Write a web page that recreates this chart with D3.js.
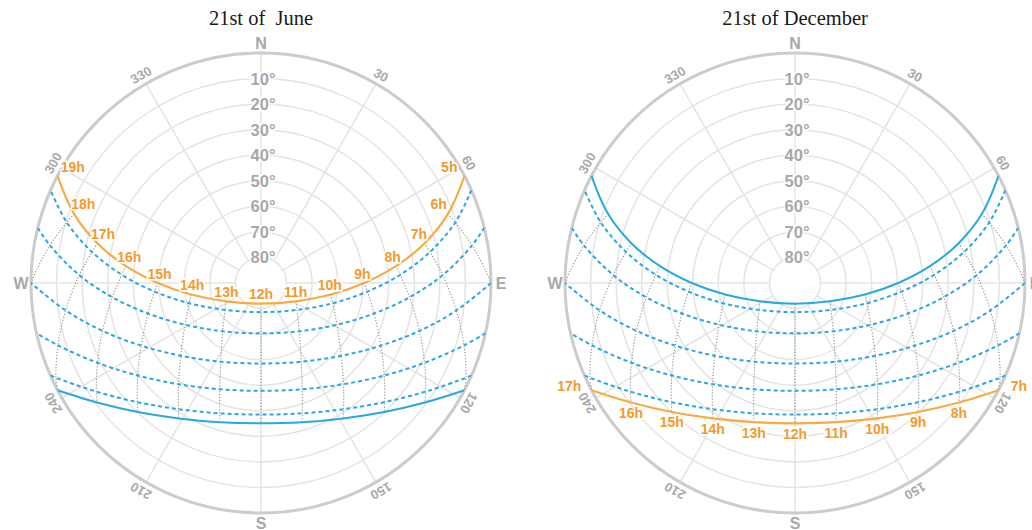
<!DOCTYPE html>
<html><head><meta charset="utf-8">
<script src="https://cdn.jsdelivr.net/npm/d3@7"></script>
<style>body{margin:0;background:#fff} svg{display:block}</style>
</head><body>
<svg id="chart" width="1032" height="530"></svg>
<script>
// ---------- DATA ----------
const chartTitles = ["21st of  June", "21st of December"];
const hours = [5, 6, 7, 8, 9, 10, 11, 12, 13, 14, 15, 16, 17, 18, 19];
const hourLabels = ["5h","6h","7h","8h","9h","10h","11h","12h","13h","14h","15h","16h","17h","18h","19h"];
const altitudeTicks = [10, 20, 30, 40, 50, 60, 70, 80];
const altitudeLabels = ["10°","20°","30°","40°","50°","60°","70°","80°"];
const azimuthTicks = [0, 30, 60, 90, 120, 150, 180, 210, 240, 270, 300, 330];
const azimuthLabels = ["N","30","60","E","120","150","S","210","240","W","300","330"];

// sun position (azimuth °, altitude °) at each hour, 21st of each month
const junAz  = [62.4, 69.7, 76.4, 82.9, 90.0, 99.4, 117.6, 180, 242.4, 260.6, 270.0, 277.1, 283.6, 290.3, 297.6];
const junAlt = [0.3, 12.0, 24.2, 36.8, 49.6, 62.3, 74.5, 81.9, 74.5, 62.3, 49.6, 36.8, 24.2, 12.0, 0.3];
const mayAz  = [65.2, 72.7, 79.6, 86.6, 94.6, 105.7, 126.7, 180, 233.3, 254.3, 265.4, 273.4, 280.4, 287.3, 294.8];
const mayAlt = [-1.6, 10.4, 22.8, 35.4, 48.2, 60.8, 72.4, 78.6, 72.4, 60.8, 48.2, 35.4, 22.8, 10.4, -1.6];
const aprAz  = [72.0, 79.9, 87.5, 95.5, 105.1, 118.8, 141.6, 180, 218.4, 241.2, 254.9, 264.5, 272.5, 280.1, 288.0];
const aprAlt = [-6.3, 6.1, 18.8, 31.6, 44.2, 56.1, 65.9, 70.3, 65.9, 56.1, 44.2, 31.6, 18.8, 6.1, -6.3];
const marAz  = [82.0, 90.0, 98.0, 106.8, 117.6, 132.2, 152.9, 180, 207.1, 227.8, 242.4, 253.2, 262.0, 270.0, 278.0];
const marAlt = [-12.8, 0, 12.8, 25.2, 37.1, 47.6, 55.4, 58.5, 55.4, 47.6, 37.1, 25.2, 12.8, 0, -12.8];
const febAz  = [null, 99.2, 107.1, 116.0, 126.9, 140.8, 158.8, 180, 201.2, 219.2, 233.1, 244.0, 252.9, 260.8, null];
const febAlt = [null, -5.6, 6.9, 18.8, 29.7, 38.9, 45.4, 47.8, 45.4, 38.9, 29.7, 18.8, 6.9, -5.6, null];
const janAz  = [null, 107.2, 114.8, 123.4, 133.9, 146.8, 162.4, 180, 197.6, 213.2, 226.1, 236.6, 245.2, 252.8, null];
const janAlt = [null, -10.3, 1.6, 12.8, 22.8, 31.0, 36.5, 38.5, 36.5, 31.0, 22.8, 12.8, 1.6, -10.3, null];
const decAz  = [null, null, 117.7, 126.1, 136.3, 148.7, 163.5, 180, 196.5, 211.3, 223.7, 233.9, 242.3, null, null];
const decAlt = [null, null, 0, 10.6, 20.2, 28.0, 33.2, 35.1, 33.2, 28.0, 20.2, 10.6, 0, null, null];

// sunrise / sunset azimuths (altitude 0) for Jun, May, Apr, Mar, Feb, Jan, Dec
const riseAz = [62.2, 66.2, 76.1, 90.0, 102.6, 113.7, 117.8];
const setAz  = [297.8, 293.8, 283.9, 270.0, 257.4, 246.3, 242.2];

// ---------- DRAWING ----------
const R = 230, CY = 283;
const centers = [261, 795];
const series = [
  {az: junAz, alt: junAlt}, {az: mayAz, alt: mayAlt}, {az: aprAz, alt: aprAlt},
  {az: marAz, alt: marAlt}, {az: febAz, alt: febAlt}, {az: janAz, alt: janAlt},
  {az: decAz, alt: decAlt}
];
const charts = [
  {highlight: 0, solid: 6, mode: "above"},
  {highlight: 6, solid: 0, mode: "below"}
];

const svg = d3.select("#chart");
const rScale = d3.scaleLinear().domain([90, 0]).range([0, R]);
const angle = d3.scaleLinear().domain([0, 360]).range([0, 2 * Math.PI]);
const radial = d3.lineRadial()
  .angle(d => angle(d.az)).radius(d => rScale(d.alt))
  .curve(d3.curveCatmullRom.alpha(0.5));
const pos = (az, alt) => [rScale(alt) * Math.sin(angle(az)), -rScale(alt) * Math.cos(angle(az))];

const ORANGE_LINE = "#f7ab45", ORANGE_TEXT = "#f39a2c", BLUE = "#2aa8e0", GREY = "#a8a8a8";
const sans = "'Liberation Sans', Arial, sans-serif";

function sunPath(i) {
  const s = series[i];
  const pts = [{az: riseAz[i], alt: 0}];
  hours.forEach((h, j) => { if (s.alt[j] != null && s.alt[j] > 0) pts.push({az: s.az[j], alt: s.alt[j]}); });
  pts.push({az: setAz[i], alt: 0});
  return pts;
}

charts.forEach((c, ci) => {
  const cx = centers[ci];
  svg.append("text").attr("x", cx).attr("y", 25).attr("text-anchor", "middle")
    .style("white-space", "pre")
    .attr("font-family", "'Liberation Serif', 'Times New Roman', serif").attr("font-size", 20.5)
    .attr("fill", "#1a1a1a").text(chartTitles[ci]);

  const g = svg.append("g").attr("transform", `translate(${cx},${CY})`);
  const clipId = "clip" + ci;
  g.append("clipPath").attr("id", clipId).append("circle").attr("r", R);

  // grid circles
  g.selectAll(".ring").data(altitudeTicks).join("circle")
    .attr("r", d => rScale(d)).attr("fill", "none").attr("stroke", "#e4e4e4").attr("stroke-width", 1.5);
  // radial lines
  g.selectAll(".spoke").data(azimuthTicks).join("line")
    .attr("x1", d => pos(d, 80)[0]).attr("y1", d => pos(d, 80)[1])
    .attr("x2", d => pos(d, 0)[0]).attr("y2", d => pos(d, 0)[1])
    .attr("stroke", "#e4e4e4").attr("stroke-width", 1.5);
  // outer circle
  g.append("circle").attr("r", R).attr("fill", "none").attr("stroke", "#cccccc").attr("stroke-width", 3);

  // altitude labels
  g.selectAll(".altlab").data(altitudeTicks).join("text")
    .attr("x", 2).attr("y", d => -rScale(d)).attr("dominant-baseline", "central")
    .attr("text-anchor", "middle").attr("font-family", sans).attr("font-weight", "bold")
    .attr("font-size", 16.5).attr("fill", GREY)
    .attr("stroke", "#fff").attr("stroke-width", 3).attr("paint-order", "stroke")
    .text((d, i) => altitudeLabels[i]);

  // azimuth labels
  g.selectAll(".azlab").data(azimuthTicks).join("text")
    .attr("transform", (d, i) => {
      const p = pos(d, 0).map(v => v * 240 / R);
      return azimuthTicks[i] % 90 === 0 ? `translate(${p[0]},${p[1]})` : `translate(${p[0]},${p[1]}) rotate(${d})`;
    })
    .attr("dominant-baseline", "central").attr("text-anchor", "middle")
    .attr("font-family", sans).attr("font-weight", "bold")
    .attr("font-size", (d, i) => d % 90 === 0 ? 16 : 13)
    .attr("fill", GREY).text((d, i) => azimuthLabels[i]);

  const clipped = g.append("g").attr("clip-path", `url(#${clipId})`);

  // hour lines (dotted)
  hours.forEach((h, j) => {
    const pts = series.filter(s => s.alt[j] != null).map(s => ({az: s.az[j], alt: s.alt[j]}));
    if (pts.length < 2) return;
    clipped.append("path").attr("d", radial(pts)).attr("fill", "none")
      .attr("stroke", "#8f8f8f").attr("stroke-width", 1.1).attr("stroke-dasharray", "1.2,1.8");
  });

  // intermediate month paths (dashed)
  series.forEach((s, i) => {
    if (i === c.highlight || i === c.solid) return;
    clipped.append("path").attr("d", radial(sunPath(i))).attr("fill", "none")
      .attr("stroke", BLUE).attr("stroke-width", 2).attr("stroke-dasharray", "4,3");
  });
  // opposite solstice (solid blue)
  clipped.append("path").attr("d", radial(sunPath(c.solid))).attr("fill", "none")
    .attr("stroke", BLUE).attr("stroke-width", 2);
  // highlighted solstice (orange)
  clipped.append("path").attr("d", radial(sunPath(c.highlight))).attr("fill", "none")
    .attr("stroke", ORANGE_LINE).attr("stroke-width", 2.2);

  // hour labels
  const hs = series[c.highlight];
  hours.forEach((h, j) => {
    const alt = hs.alt[j];
    if (alt == null || alt < 0) return;
    const az = hs.az[j];
    const [x, y] = pos(az, alt);
    const sn = Math.sin(angle(az));
    let lx = x, ly, anchor = "middle";
    if (c.mode === "above") {
      lx = x - sn * 17 * Math.exp(-alt / 22);
      ly = y - 9.5;
    } else if (alt < 1) {
      anchor = sn < 0 ? "end" : "start";
      lx = x + (sn < 0 ? -10 : 12);
      ly = y - 3.5;
    } else {
      ly = y + 10.5;
    }
    g.append("text").attr("x", lx).attr("y", ly).attr("text-anchor", anchor)
      .attr("dominant-baseline", "central").attr("font-family", sans).attr("font-weight", "bold")
      .attr("font-size", 14).attr("fill", ORANGE_TEXT)
      .attr("stroke", "#fff").attr("stroke-width", 3).attr("paint-order", "stroke")
      .text(hourLabels[j]);
  });
});
</script>
</body></html>
